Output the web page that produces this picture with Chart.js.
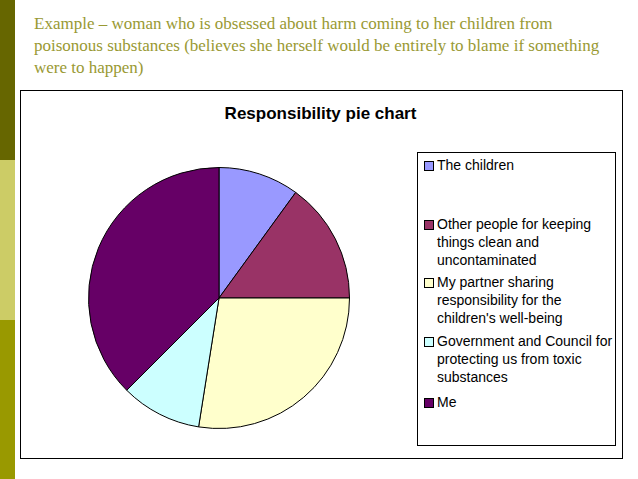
<!DOCTYPE html>
<html>
<head>
<meta charset="utf-8">
<script src="https://cdn.jsdelivr.net/npm/chart.js@4/dist/chart.umd.min.js"></script>
<style>
  body { margin: 0; width: 638px; height: 479px; background: #fff; position: relative; overflow: hidden; font-family: "Liberation Sans", Arial, sans-serif; }
  .strip { position: absolute; left: 0; width: 15px; }
  #heading { position: absolute; left: 34px; top: 13px; width: 580px; font-family: "Liberation Serif", serif; font-size: 17px; line-height: 22px; color: #999933; }
  #box { position: absolute; left: 20px; top: 90px; width: 601px; height: 367px; border: 1px solid #000; }
  #title { position: absolute; left: 20px; top: 104px; width: 601px; text-align: center; font-weight: bold; font-size: 17px; }
  #pieWrap { position: absolute; left: 87px; top: 166px; width: 264px; height: 264px; }
  #legend { position: absolute; left: 417px; top: 152px; width: 197px; height: 292px; border: 1px solid #000; }
  .item { position: absolute; left: 6px; width: 190px; font-size: 14px; line-height: 18px; }
  .sw { position: absolute; left: 0; top: 5px; width: 8px; height: 8px; border: 1px solid #000; }
  .txt { margin-left: 13px; }
</style>
</head>
<body>
<div class="strip" style="top:0;height:160px;background:#666600"></div>
<div class="strip" style="top:160px;height:160px;background:#CCCC66"></div>
<div class="strip" style="top:320px;height:159px;background:#999900"></div>
<div id="heading">Example – woman who is obsessed about harm coming to her children from poisonous substances (believes she herself would be entirely to blame if something were to happen)</div>
<div id="box"></div>
<div id="title">Responsibility pie chart</div>
<div id="pieWrap"><canvas id="pie"></canvas></div>
<div id="legend"></div>
<script>
// Slice labels, shares (percent) and fill colours
const categories = [
  'The children',
  'Other people for keeping things clean and uncontaminated',
  "My partner sharing responsibility for the children's well-being",
  'Government and Council for protecting us from toxic substances',
  'Me'
];
const shares = [10, 15, 27.5, 10, 37.5];
const colours = ['#9999FF', '#993366', '#FFFFCC', '#CCFFFF', '#660066'];
const legendTops = [3, 62, 120, 179, 240];

new Chart(document.getElementById('pie'), {
  type: 'pie',
  data: {
    labels: categories,
    datasets: [{ data: shares, backgroundColor: colours, borderColor: '#000', borderWidth: 1 }]
  },
  options: {
    responsive: true,
    maintainAspectRatio: false,
    animation: false,
    layout: { padding: 1 },
    plugins: { legend: { display: false }, tooltip: { enabled: false } }
  }
});

// legend built from the same arrays
const legend = document.getElementById('legend');
categories.forEach(function(name, i) {
  const item = document.createElement('div');
  item.className = 'item';
  item.style.top = legendTops[i] + 'px';
  item.innerHTML = '<div class="sw" style="background:' + colours[i] + '"></div><div class="txt"></div>';
  item.querySelector('.txt').textContent = name;
  legend.appendChild(item);
});
</script>
</body>
</html>
